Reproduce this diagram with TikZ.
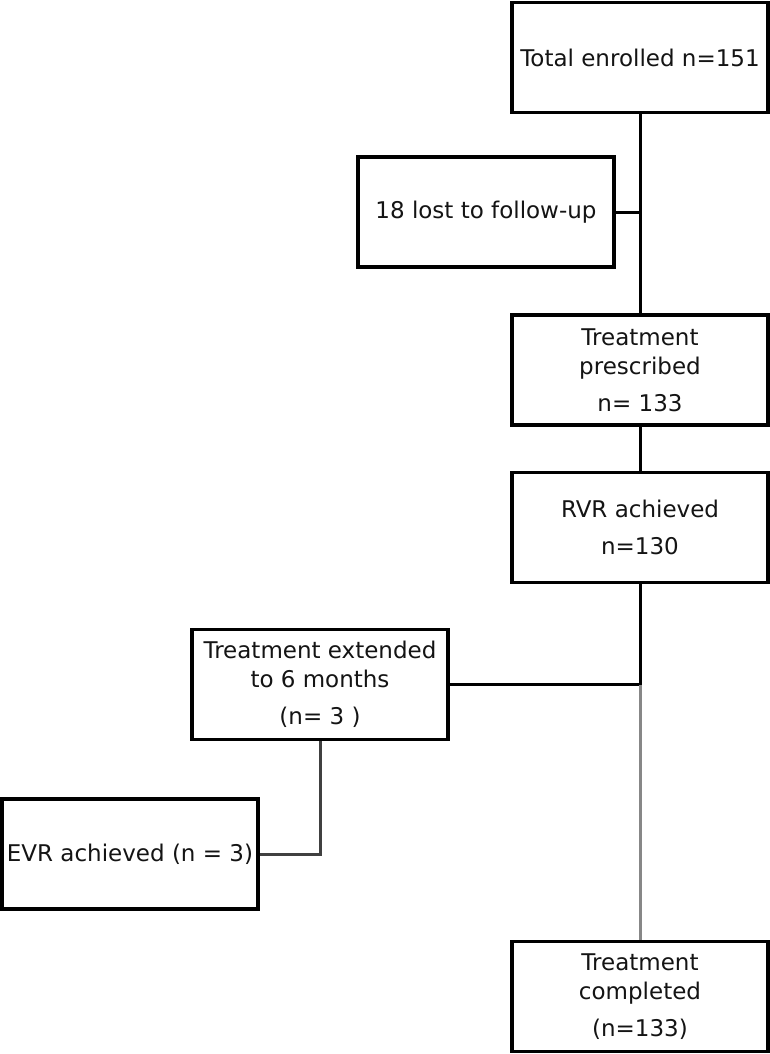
\documentclass[tikz,border=0pt]{standalone}
\usepackage{fontspec}
\setmainfont{DejaVu Sans}
\usetikzlibrary{positioning}
\tikzstyle{chart} = [x = 1pt, y = -1pt]
\definecolor{textColor}{RGB}{20,20,20}
\definecolor{lowerLineColor}{RGB}{135,135,135}
\tikzstyle{boxStyle} = [draw=black, line width=3.2pt, fill=white, minimum width=256pt, minimum height=110pt, align=center, inner sep=1pt, text=textColor, font=\fontsize{23}{29}\selectfont]
\tikzstyle{linkLine} = [draw=black, line width=3pt]
\tikzstyle{greyLine} = [draw=lowerLineColor, line width=3pt]
\newcommand{\flowBox}[4]{\node [boxStyle] (#1) at (#2, #3) {#4};}
\begin{document}
\begin{tikzpicture}[chart]
        \useasboundingbox (0,0) rectangle (770,1054);
        \flowBox{enrolled}{640}{57.5}{Total enrolled n=151}
        \flowBox{lost}{486}{212}{18 lost to follow-up}
        \flowBox{prescribed}{640}{370}{Treatment\\prescribed\\[8pt]n= 133}
        \flowBox{rvr}{640}{527.5}{RVR achieved\\[8pt]n=130}
        \flowBox{extended}{320}{684.5}{Treatment extended\\to 6 months\\[8pt](n= 3 )}
        \flowBox{evr}{130}{854}{EVR achieved (n = 3)}
        \flowBox{completed}{640}{996.5}{Treatment\\completed\\[8pt](n=133)}

        \coordinate (lostJoin) at (enrolled.south |- lost.east);
        \coordinate (split) at (rvr.south |- extended.east);
        \draw [linkLine] (enrolled.south) -- (prescribed.north);
        \draw [linkLine] (lost.east) -- (lostJoin);
        \draw [linkLine] (prescribed.south) -- (rvr.north);
        \draw [linkLine] (rvr.south) -- (split);
        \draw [linkLine] (extended.east) -- (split);
        \draw [greyLine] (split) -- (completed.north);
        \draw [linkLine, draw=black!75] (extended.south) |- (evr.east);
      \end{tikzpicture}
\end{document}
